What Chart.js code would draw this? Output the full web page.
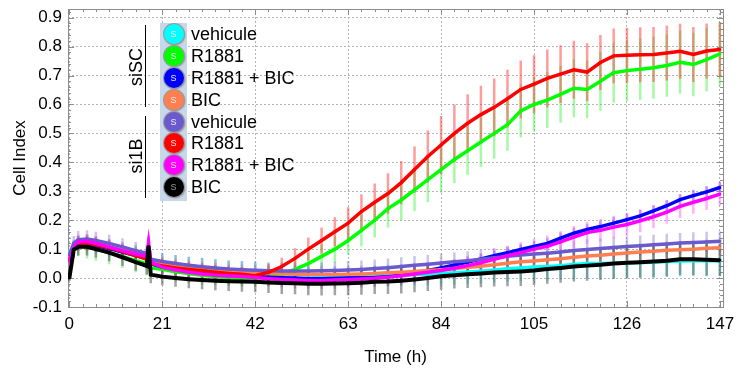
<!DOCTYPE html>
<html>
<head>
<meta charset="utf-8">
<script src="https://cdn.jsdelivr.net/npm/chart.js@4.4.1/dist/chart.umd.min.js"></script>
<style>
  body { margin: 0; background: #fff; }
  #wrap { position: relative; width: 748px; height: 374px; font-family: "Liberation Sans", Arial, sans-serif; }
  .box { position: absolute; left: 160px; top: 23px; width: 27px; height: 178px; background: #c8d7ea; }
  .dot { position: absolute; width: 20px; height: 20px; border-radius: 50%; box-shadow: 0 0 0 1px #9a9a9a, 1px 1px 2px #777;
         color: #eee; font-size: 9px; line-height: 20px; text-align: center; }
  .lab { position: absolute; left: 191px; font-size: 18px; line-height: 22px; color: #000; white-space: nowrap; }
  .grp { position: absolute; font-size: 18px; line-height: 20px; width: 60px; text-align: center; transform: rotate(-90deg); color: #000; }
  .bar { position: absolute; left: 145px; width: 1px; background: #000; }
</style>
</head>
<body>
<div id="wrap">
  <canvas id="chart" width="748" height="374"></canvas>
</div>
<script>
var times = [0, 1, 2, 4, 6, 9, 12, 15, 17.5, 17.9, 18.4,
  21, 24, 27, 30, 33, 36, 39, 42, 45, 48,
  51, 54, 57, 60, 63, 66, 69, 72, 75, 78,
  81, 84, 87, 90, 93, 96, 99, 102, 105, 108,
  111, 114, 117, 120, 123, 126, 129, 132, 135, 138,
  141, 144, 147];

var seriesNames = ["vehicule", "R1881", "R1881 + BIC", "BIC", "vehicule", "R1881", "R1881 + BIC", "BIC"];
var groupNames = ["siSC", "si1B"];
var seriesColors = ["#00ffff", "#00ff00", "#0000ff", "#ff7f50", "#6a5acd", "#ff0000", "#ff00ff", "#000000"];
var errorColors = ["rgba(0,225,240,0.4)", "rgba(60,240,60,0.45)", "rgba(70,70,255,0.4)", "rgba(255,130,90,0.4)",
  "rgba(120,110,210,0.4)", "rgba(255,60,60,0.5)", "rgba(255,80,255,0.45)", "rgba(70,70,70,0.5)"];

// siSC
var scVehicule = [0.09, 0.11, 0.12, 0.12, 0.115, 0.105, 0.095, 0.085, 0.078, 0.09, 0.062,
  0.055, 0.048, 0.042, 0.037, 0.032, 0.028, 0.025, 0.022, 0.019, 0.016,
  0.013, 0.011, 0.009, 0.008, 0.007, 0.007, 0.008, 0.009, 0.01, 0.012,
  0.014, 0.016, 0.018, 0.021, 0.024, 0.028, 0.032, 0.035, 0.038, 0.04,
  0.043, 0.047, 0.05, 0.05, 0.051, 0.052, 0.054, 0.055, 0.057, 0.059,
  0.06, 0.06, 0.06];
var scR1881 = [0.08, 0.10, 0.11, 0.108, 0.10, 0.088, 0.075, 0.06, 0.05, 0.08, 0.035,
  0.03, 0.022, 0.016, 0.01, 0.005, 0.002, 0.0, 0.0, 0.003, 0.012,
  0.03, 0.05, 0.075, 0.1, 0.13, 0.165, 0.2, 0.24, 0.27, 0.305,
  0.34, 0.375, 0.41, 0.44, 0.47, 0.5, 0.53, 0.578, 0.6, 0.615,
  0.635, 0.656, 0.652, 0.68, 0.71, 0.717, 0.722, 0.727, 0.735, 0.746,
  0.738, 0.755, 0.775];
var scR1881Bic = [0.07, 0.10, 0.115, 0.118, 0.112, 0.102, 0.09, 0.078, 0.068, 0.09, 0.05,
  0.038, 0.03, 0.024, 0.019, 0.015, 0.012, 0.009, 0.006, 0.003, 0.001,
  0.0, -0.002, -0.002, -0.001, 0.0, 0.001, 0.002, 0.005, 0.01, 0.018,
  0.026, 0.035, 0.045, 0.055, 0.066, 0.077, 0.088, 0.099, 0.109, 0.12,
  0.138, 0.155, 0.168, 0.178, 0.19, 0.202, 0.215, 0.232, 0.25, 0.271,
  0.285, 0.298, 0.313];
var scBic = [0.07, 0.105, 0.12, 0.122, 0.118, 0.108, 0.097, 0.085, 0.076, 0.09, 0.06,
  0.05, 0.043, 0.037, 0.032, 0.028, 0.025, 0.022, 0.02, 0.017, 0.015,
  0.013, 0.012, 0.012, 0.012, 0.013, 0.014, 0.016, 0.018, 0.02, 0.023,
  0.026, 0.029, 0.033, 0.037, 0.041, 0.046, 0.051, 0.056, 0.059, 0.063,
  0.067, 0.072, 0.076, 0.079, 0.083, 0.087, 0.09, 0.093, 0.096, 0.098,
  0.1, 0.103, 0.105];

// si1B
var bVehicule = [0.08, 0.12, 0.133, 0.135, 0.13, 0.12, 0.108, 0.095, 0.086, 0.10, 0.065,
  0.057, 0.05, 0.044, 0.039, 0.035, 0.031, 0.029, 0.027, 0.025, 0.024,
  0.024, 0.024, 0.025, 0.026, 0.028, 0.03, 0.033, 0.036, 0.04, 0.044,
  0.048, 0.052, 0.056, 0.06, 0.065, 0.07, 0.075, 0.08, 0.083, 0.086,
  0.09, 0.095, 0.099, 0.102, 0.106, 0.109, 0.112, 0.115, 0.118, 0.121,
  0.123, 0.125, 0.127];
var bR1881 = [0.06, 0.10, 0.12, 0.122, 0.115, 0.105, 0.092, 0.078, 0.065, 0.10, 0.05,
  0.042, 0.035, 0.03, 0.025, 0.02, 0.016, 0.013, 0.008, 0.02, 0.04,
  0.068, 0.10, 0.13, 0.16, 0.19, 0.23, 0.262, 0.292, 0.33, 0.375,
  0.42, 0.46, 0.50, 0.535, 0.565, 0.59, 0.62, 0.652, 0.67, 0.69,
  0.705, 0.72, 0.712, 0.745, 0.768, 0.77, 0.772, 0.773, 0.778, 0.784,
  0.773, 0.785, 0.79];
var bR1881Bic = [0.06, 0.105, 0.125, 0.127, 0.12, 0.108, 0.095, 0.083, 0.075, 0.122, 0.055,
  0.037, 0.028, 0.02, 0.014, 0.01, 0.007, 0.005, 0.002, -0.002, -0.005,
  -0.007, -0.008, -0.008, -0.007, -0.005, -0.003, -0.001, 0.003, 0.008, 0.014,
  0.02, 0.026, 0.034, 0.043, 0.053, 0.065, 0.077, 0.088, 0.1, 0.11,
  0.125, 0.142, 0.157, 0.165, 0.176, 0.185, 0.198, 0.212, 0.228, 0.248,
  0.262, 0.275, 0.29];
var bBic = [0.0, 0.098, 0.108, 0.108, 0.10, 0.088, 0.072, 0.055, 0.042, 0.11, 0.012,
  0.005, 0.0, -0.004, -0.007, -0.009, -0.011, -0.012, -0.013, -0.015, -0.017,
  -0.018, -0.02, -0.02, -0.019, -0.018, -0.016, -0.013, -0.012, -0.009, -0.005,
  0.0, 0.006, 0.01, 0.013, 0.016, 0.019, 0.021, 0.023, 0.026, 0.031,
  0.035, 0.04, 0.043, 0.046, 0.05, 0.053, 0.055, 0.057, 0.06, 0.065,
  0.065, 0.063, 0.062];

// error bar half-lengths (same order as above)
var errScVehicule = [0.01, 0.02, 0.025, 0.03, 0.03, 0.03, 0.03, 0.03, 0.03, 0.03, 0.03,
  0.03, 0.032, 0.032, 0.033, 0.033, 0.033, 0.033, 0.033, 0.033, 0.034,
  0.034, 0.034, 0.035, 0.035, 0.035, 0.036, 0.036, 0.037, 0.037, 0.038,
  0.039, 0.04, 0.041, 0.042, 0.043, 0.044, 0.045, 0.046, 0.047, 0.048,
  0.049, 0.05, 0.05, 0.051, 0.052, 0.052, 0.053, 0.053, 0.053, 0.054,
  0.054, 0.054, 0.054];
var errScR1881 = [0.02, 0.03, 0.035, 0.04, 0.04, 0.04, 0.04, 0.04, 0.04, 0.04, 0.035,
  0.035, 0.035, 0.033, 0.032, 0.03, 0.03, 0.03, 0.03, 0.03, 0.032,
  0.035, 0.038, 0.042, 0.046, 0.05, 0.055, 0.06, 0.065, 0.07, 0.074,
  0.078, 0.08, 0.082, 0.084, 0.086, 0.088, 0.09, 0.092, 0.094, 0.096,
  0.098, 0.1, 0.1, 0.102, 0.104, 0.105, 0.106, 0.107, 0.108, 0.109,
  0.11, 0.11, 0.11];
var errScR1881Bic = [0.01, 0.015, 0.015, 0.015, 0.015, 0.015, 0.015, 0.015, 0.015, 0.015, 0.015,
  0.015, 0.015, 0.015, 0.015, 0.015, 0.015, 0.015, 0.015, 0.015, 0.015,
  0.015, 0.015, 0.015, 0.015, 0.015, 0.015, 0.015, 0.015, 0.016, 0.016,
  0.016, 0.016, 0.017, 0.017, 0.017, 0.017, 0.018, 0.018, 0.018, 0.018,
  0.019, 0.019, 0.019, 0.019, 0.02, 0.02, 0.02, 0.02, 0.02, 0.02,
  0.02, 0.02, 0.02];
var errScBic = [0.01, 0.02, 0.025, 0.025, 0.025, 0.025, 0.025, 0.025, 0.025, 0.025, 0.025,
  0.025, 0.025, 0.025, 0.025, 0.025, 0.025, 0.025, 0.025, 0.025, 0.025,
  0.025, 0.025, 0.025, 0.025, 0.025, 0.025, 0.025, 0.025, 0.026, 0.026,
  0.026, 0.026, 0.027, 0.027, 0.027, 0.027, 0.028, 0.028, 0.028, 0.028,
  0.029, 0.029, 0.029, 0.029, 0.03, 0.03, 0.03, 0.03, 0.03, 0.03,
  0.03, 0.03, 0.03];
var errBVehicule = [0.015, 0.025, 0.03, 0.03, 0.03, 0.03, 0.03, 0.03, 0.03, 0.03, 0.03,
  0.03, 0.03, 0.03, 0.03, 0.03, 0.03, 0.03, 0.03, 0.03, 0.03,
  0.03, 0.03, 0.03, 0.03, 0.031, 0.031, 0.031, 0.032, 0.032, 0.032,
  0.032, 0.033, 0.033, 0.033, 0.033, 0.034, 0.034, 0.034, 0.034, 0.034,
  0.035, 0.035, 0.035, 0.035, 0.035, 0.035, 0.035, 0.035, 0.035, 0.035,
  0.035, 0.035, 0.035];
var errBR1881 = [0.01, 0.02, 0.025, 0.025, 0.025, 0.025, 0.025, 0.025, 0.025, 0.025, 0.025,
  0.025, 0.025, 0.025, 0.025, 0.025, 0.025, 0.025, 0.025, 0.028, 0.03,
  0.035, 0.04, 0.045, 0.05, 0.055, 0.06, 0.065, 0.07, 0.075, 0.08,
  0.09, 0.1, 0.1, 0.1, 0.1, 0.1, 0.1, 0.1, 0.1, 0.1,
  0.1, 0.1, 0.1, 0.095, 0.095, 0.095, 0.095, 0.095, 0.095, 0.095,
  0.095, 0.095, 0.095];
var errBR1881Bic = [0.01, 0.02, 0.025, 0.025, 0.025, 0.025, 0.025, 0.025, 0.025, 0.025, 0.025,
  0.025, 0.025, 0.025, 0.025, 0.025, 0.026, 0.026, 0.027, 0.027, 0.028,
  0.028, 0.028, 0.029, 0.029, 0.03, 0.03, 0.03, 0.031, 0.031, 0.032,
  0.032, 0.033, 0.033, 0.034, 0.034, 0.035, 0.035, 0.036, 0.036, 0.037,
  0.037, 0.038, 0.038, 0.039, 0.039, 0.04, 0.04, 0.04, 0.04, 0.04,
  0.04, 0.04, 0.04];
var errBBic = [0.01, 0.025, 0.03, 0.03, 0.03, 0.03, 0.03, 0.03, 0.03, 0.03, 0.03,
  0.03, 0.03, 0.031, 0.032, 0.033, 0.034, 0.035, 0.036, 0.037, 0.038,
  0.038, 0.039, 0.04, 0.04, 0.041, 0.042, 0.042, 0.043, 0.044, 0.044,
  0.045, 0.046, 0.046, 0.047, 0.048, 0.048, 0.049, 0.05, 0.05, 0.051,
  0.051, 0.052, 0.052, 0.053, 0.053, 0.054, 0.054, 0.055, 0.055, 0.055,
  0.055, 0.055, 0.055];

var allValues = [scVehicule, scR1881, scR1881Bic, scBic, bVehicule, bR1881, bR1881Bic, bBic];
var allErrors = [errScVehicule, errScR1881, errScR1881Bic, errScBic, errBVehicule, errBR1881, errBR1881Bic, errBBic];

var FONT = "'Liberation Sans', Arial, sans-serif";

// vertical error bars, drawn under the lines
var errorBarPlugin = {
  id: 'errorBars',
  beforeDatasetsDraw: function(chart) {
    var ctx = chart.ctx, xs = chart.scales.x, ys = chart.scales.y, a = chart.chartArea;
    ctx.save();
    ctx.beginPath();
    ctx.rect(a.left, a.top, a.right - a.left, a.bottom - a.top);
    ctx.clip();
    ctx.lineWidth = 2.5;
    for (var s = 0; s < allValues.length; s++) {
      ctx.strokeStyle = errorColors[s];
      ctx.beginPath();
      for (var i = 0; i < times.length; i++) {
        var px = xs.getPixelForValue(times[i]);
        ctx.moveTo(px, ys.getPixelForValue(allValues[s][i] - allErrors[s][i]));
        ctx.lineTo(px, ys.getPixelForValue(allValues[s][i] + allErrors[s][i]));
      }
      ctx.stroke();
    }
    ctx.restore();
  }
};

// grey frame with inner major / minor ticks on all four sides
var framePlugin = {
  id: 'frame',
  beforeDatasetsDraw: function(chart) {
    var ctx = chart.ctx, xs = chart.scales.x, ys = chart.scales.y, a = chart.chartArea;
    ctx.save();
    ctx.strokeStyle = '#8c8c8c';
    ctx.lineWidth = 1;
    ctx.strokeRect(Math.round(a.left) + 0.5, Math.round(a.top) + 0.5, Math.round(a.right - a.left), Math.round(a.bottom - a.top));
    ctx.beginPath();
    for (var t = 0; t <= 147; t += 3) {
      var len = (t % 21 === 0) ? 6 : 3;
      var px = Math.round(xs.getPixelForValue(t)) + 0.5;
      ctx.moveTo(px, a.bottom); ctx.lineTo(px, a.bottom - len);
      ctx.moveTo(px, a.top); ctx.lineTo(px, a.top + len);
    }
    for (var k = -5; k <= 46; k++) {
      var v = k * 0.02;
      var l2 = (k % 5 === 0) ? 6 : 3;
      var py = Math.round(ys.getPixelForValue(v)) + 0.5;
      ctx.moveTo(a.left, py); ctx.lineTo(a.left + l2, py);
      ctx.moveTo(a.right, py); ctx.lineTo(a.right - l2, py);
    }
    ctx.stroke();
    ctx.restore();
  }
};

var datasets = [];
for (var s = 0; s < allValues.length; s++) {
  var pts = [];
  for (var i = 0; i < times.length; i++) pts.push({ x: times[i], y: allValues[s][i] });
  datasets.push({
    label: groupNames[s < 4 ? 0 : 1] + ' ' + seriesNames[s],
    data: pts,
    borderColor: seriesColors[s],
    backgroundColor: seriesColors[s],
    borderWidth: (s === 7) ? 4 : 3.5,
    pointStyle: 'rect',
    pointRadius: 1.8,
    pointBorderWidth: 0,
    tension: 0,
    order: allValues.length - s
  });
}

new Chart(document.getElementById('chart'), {
  type: 'line',
  data: { datasets: datasets },
  options: {
    responsive: false,
    animation: false,
    layout: { padding: { top: 9, right: 25, left: 0, bottom: 0 } },
    plugins: { legend: { display: false }, tooltip: { enabled: false } },
    scales: {
      x: {
        type: 'linear', min: -0.3, max: 147.7,
        ticks: { stepSize: 21, includeBounds: false, autoSkip: false, maxRotation: 0, padding: 7,
                 color: '#000', font: { family: FONT, size: 17 } },
        grid: { color: '#b4b4b4', drawTicks: false },
        border: { display: false, dash: [2, 2] },
        title: { display: true, text: 'Time (h)', color: '#000', font: { family: FONT, size: 17 }, padding: { top: 0, bottom: 6 } },
        afterFit: function(sc) { sc.height = 67; sc.paddingLeft = 0; sc.paddingRight = 0; }
      },
      y: {
        type: 'linear', min: -0.1, max: 0.93,
        ticks: { stepSize: 0.1, includeBounds: false, padding: 6, color: '#000', font: { family: FONT, size: 17 },
                 callback: function(v) { return v.toFixed(1); } },
        grid: { color: '#b4b4b4', drawTicks: false },
        border: { display: false, dash: [2, 2] },
        title: { display: true, text: 'Cell Index', color: '#000', font: { family: FONT, size: 17 }, padding: { top: 10, bottom: 0 } },
        afterFit: function(sc) { sc.width = 68; sc.paddingTop = 0; sc.paddingBottom = 0; }
      }
    }
  },
  plugins: [framePlugin, errorBarPlugin]
});

// legend overlay
var wrap = document.getElementById('wrap');
var box = document.createElement('div');
box.className = 'box';
wrap.appendChild(box);
for (var r = 0; r < seriesNames.length; r++) {
  var cy = 34.3 + r * 21.8;
  var dot = document.createElement('div');
  dot.className = 'dot';
  dot.style.left = '163.5px';
  dot.style.top = (cy - 10) + 'px';
  dot.style.background = seriesColors[r];
  if (r === 7) dot.style.color = '#999';
  dot.textContent = 'S';
  wrap.appendChild(dot);
  var lab = document.createElement('div');
  lab.className = 'lab';
  lab.style.top = (cy - 11) + 'px';
  lab.textContent = seriesNames[r];
  wrap.appendChild(lab);
}
var groupCenters = [67, 156];
var barTops = [[25, 82], [116, 82]];
for (var g = 0; g < groupNames.length; g++) {
  var gt = document.createElement('div');
  gt.className = 'grp';
  gt.style.left = (135.5 - 30) + 'px';
  gt.style.top = (groupCenters[g] - 10) + 'px';
  gt.textContent = groupNames[g];
  wrap.appendChild(gt);
  var bar = document.createElement('div');
  bar.className = 'bar';
  bar.style.top = barTops[g][0] + 'px';
  bar.style.height = barTops[g][1] + 'px';
  wrap.appendChild(bar);
}
</script>
</body>
</html>
